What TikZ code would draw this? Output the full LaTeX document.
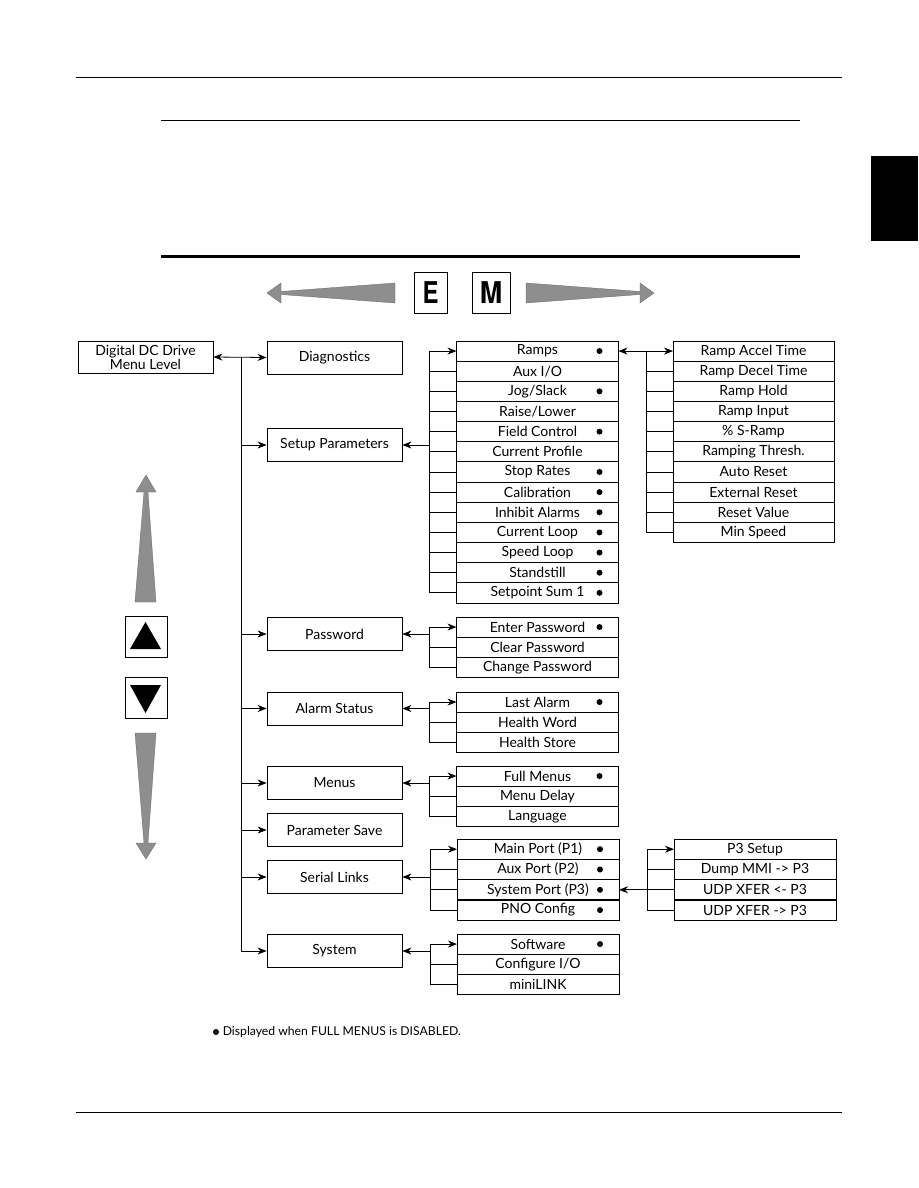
\documentclass[tikz,border=0pt]{standalone}
\usepackage{fontspec}
\setmainfont{Lato}
\newfontfamily\keyfont{TeX Gyre Heros}
\usetikzlibrary{arrows.meta, positioning}
\definecolor{keygray}{HTML}{8E8E8E}

\begin{document}
\begin{tikzpicture}[x=1pt, y=-1pt, >={Stealth[length=9pt, width=7pt]}, line width=0.8pt,
  catbox/.style={rectangle, draw, minimum width=135pt, minimum height=33pt, inner sep=0pt, font=\fontsize{14}{15}\selectfont},
  itembox/.style={rectangle, draw, minimum width=162pt, minimum height=20.15pt, inner sep=0pt, outer sep=0pt, font=\fontsize{14}{15}\selectfont},
  flag/.style={circle, fill, inner sep=0pt, minimum size=6pt},
  keybox/.style={rectangle, draw, minimum width=42pt, minimum height=41pt, inner sep=0pt},
  grayarrow/.style={fill=keygray, draw=keygray!70!black, line width=0.3pt}]
  \useasboundingbox (0,0) rectangle (918,1188);

  % page rules and tab
  \draw (76,77) -- (842,77);
  \draw (161,120) -- (800,120);
  \draw[line width=2.2pt] (161,256.5) -- (800,256.5);
  \fill (871,156) rectangle (918,241);
  \draw (76,1112) -- (842,1112);

  % E and M keys
  \node[keybox, minimum width=41pt, font=\keyfont\bfseries\fontsize{30}{30}\selectfont, xscale=0.8] (ekey) at (430.5,292.5) {E};
  \node[keybox, minimum width=42pt, font=\keyfont\bfseries\fontsize{30}{30}\selectfont, xscale=0.9] (mkey) at (491,292.5) {M};
  \draw[grayarrow] (395,283) -- (281,291.5) -- (281,283) -- (267,293) -- (281,303) -- (281,294.5) -- (395,303) -- cycle;
  \draw[grayarrow] (526,283) -- (640,291.5) -- (640,283) -- (654,293) -- (640,303) -- (640,294.5) -- (526,303) -- cycle;

  % up and down keys
  \node[keybox] (upkey) at (146,637) {};
  \node[keybox] (downkey) at (146,697.5) {};
  \fill (130,649) -- (161,649) -- (145.5,622) -- cycle;
  \fill (130,685) -- (161,685) -- (145.5,713) -- cycle;
  \draw[grayarrow] (135,602) -- (144,492) -- (136,492) -- (146,475) -- (156,492) -- (148,492) -- (156,602) -- cycle;
  \draw[grayarrow] (135,733) -- (144,843) -- (136,843) -- (146,859) -- (156,843) -- (148,843) -- (156,733) -- cycle;

  % menu level and first column
  \node[catbox, minimum width=135pt, minimum height=32pt, align=center, font=\fontsize{14}{12}\selectfont] (root) at (145.5,357) {Digital DC Drive\\Menu Level};
  \node[catbox] (diag) at (334.5,357.5) {Diagnostics};
  \node[catbox] (setup) at (334.5,445) {Setup Parameters};
  \node[catbox] (pass) at (334.5,634) {Password};
  \node[catbox] (alarm) at (334.5,708.5) {Alarm Status};
  \node[catbox] (menus) at (334.5,783) {Menus};
  \node[catbox] (psave) at (334.5,830) {Parameter Save};
  \node[catbox] (serial) at (334.5,877) {Serial Links};
  \node[catbox] (system) at (334.5,951) {System};

  \coordinate (trunk) at (241,357);
  \draw[<->] (root.east) -- (diag.west);
  \draw[->] (trunk) |- (system.west);
  \foreach \n in {setup, pass, alarm, menus, psave, serial}
    \draw[->] (trunk |- \n.west) -- (\n.west);

  % sub menus
  \foreach \t [count=\i] in {Ramps, Aux I/O, Jog/Slack, Raise/Lower, Field Control, Current Profile, Stop Rates, Calibration, Inhibit Alarms, Current Loop, Speed Loop, Standstill, Setpoint Sum 1}
    \node[itembox] (s\i) at (537.5,{330.9+20.15*\i}) {\t};
  \foreach \t [count=\i] in {Ramp Accel Time, Ramp Decel Time, Ramp Hold, Ramp Input, \% S-Ramp, Ramping Thresh., Auto Reset, External Reset, Reset Value, Min Speed}
    \node[itembox, minimum width=161pt] (r\i) at (753.5,{330.9+20.15*\i}) {\t};
  \foreach \t [count=\i] in {Enter Password, Clear Password, Change Password}
    \node[itembox] (p\i) at (537.5,{606.9+20.15*\i}) {\t};
  \foreach \t [count=\i] in {Last Alarm, Health Word, Health Store}
    \node[itembox] (a\i) at (537.5,{681.9+20.15*\i}) {\t};
  \foreach \t [count=\i] in {Full Menus, Menu Delay, Language}
    \node[itembox] (m\i) at (537.5,{755.9+20.15*\i}) {\t};
  \foreach \t [count=\i] in {Main Port (P1), Aux Port (P2), System Port (P3), PNO Config}
    \node[itembox] (l\i) at (538,{828.9+20.3*\i}) {\t};
  \foreach \t [count=\i] in {P3 Setup, Dump MMI -> P3, UDP XFER <- P3, UDP XFER -> P3}
    \node[itembox] (x\i) at (755,{828.9+20.3*\i}) {\t};
  \foreach \t [count=\i] in {Software, Configure I/O, miniLINK}
    \node[itembox] (y\i) at (538,{923.9+20.15*\i}) {\t};

  % bullets
  \foreach \n in {s1, s3, s5, s7, s8, s9, s10, s11, s12, s13, p1, a1, m1, l1, l2, l3, l4, y1}
    \node[flag] (d\n) at ([xshift=-19pt]\n.east) {};

  % buses
  \coordinate (sbus) at (429,445);
  \draw[->] (sbus) -- (setup.east);
  \draw (sbus |- s1.west) -- (sbus |- s13.west);
  \draw[->] (sbus |- s1.west) -- (s1.west);
  \foreach \i in {2,...,13} \draw (sbus |- s\i.west) -- (s\i.west);

  \coordinate (rbus) at (646,351);
  \draw[<->] (s1.east) -- (r1.west);
  \draw (rbus |- r1.west) -- (rbus |- r10.west);
  \foreach \i in {2,...,10} \draw (rbus |- r\i.west) -- (r\i.west);

  \coordinate (pbus) at (429,634);
  \draw[->] (pbus) -- (pass.east);
  \draw (pbus |- p1.west) -- (pbus |- p3.west);
  \draw[->] (pbus |- p1.west) -- (p1.west);
  \foreach \i in {2,3} \draw (pbus |- p\i.west) -- (p\i.west);

  \coordinate (abus) at (429,708.5);
  \draw[->] (abus) -- (alarm.east);
  \draw (abus |- a1.west) -- (abus |- a3.west);
  \draw[->] (abus |- a1.west) -- (a1.west);
  \foreach \i in {2,3} \draw (abus |- a\i.west) -- (a\i.west);

  \coordinate (mbus) at (429,783);
  \draw[->] (mbus) -- (menus.east);
  \draw (mbus |- m1.west) -- (mbus |- m3.west);
  \draw[->] (mbus |- m1.west) -- (m1.west);
  \foreach \i in {2,3} \draw (mbus |- m\i.west) -- (m\i.west);

  \coordinate (lbus) at (430,877);
  \draw[->] (lbus) -- (serial.east);
  \draw (lbus |- l1.west) -- (lbus |- l4.west);
  \draw[->] (lbus |- l1.west) -- (l1.west);
  \foreach \i in {2,3,4} \draw (lbus |- l\i.west) -- (l\i.west);

  \coordinate (xbus) at (647,890);
  \draw[->] (xbus |- l3.east) -- (l3.east);
  \draw (xbus |- x1.west) -- (xbus |- x4.west);
  \draw[->] (xbus |- x1.west) -- (x1.west);
  \foreach \i in {2,3,4} \draw (xbus |- x\i.west) -- (x\i.west);

  \coordinate (ybus) at (430,951);
  \draw[->] (ybus) -- (system.east);
  \draw (ybus |- y1.west) -- (ybus |- y3.west);
  \draw[->] (ybus |- y1.west) -- (y1.west);
  \foreach \i in {2,3} \draw (ybus |- y\i.west) -- (y\i.west);

  % legend
  \node[flag] (legdot) at (216,1032) {};
  \node[right=3pt of legdot, font=\fontsize{12.2}{14}\selectfont, inner sep=0pt] (legend) {Displayed when FULL MENUS is DISABLED.};
\end{tikzpicture}
\end{document}
